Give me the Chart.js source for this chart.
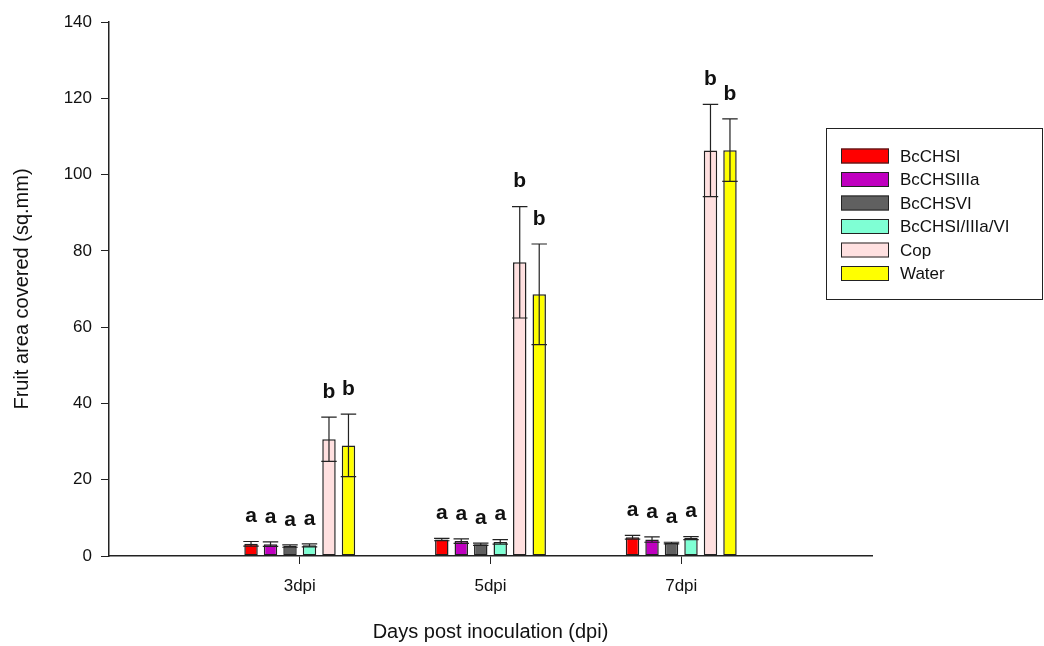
<!DOCTYPE html>
<html>
<head>
<meta charset="utf-8">
<script src="https://cdn.jsdelivr.net/npm/chart.js@4"></script>
<style>
  body { margin: 0; background: #fff; }
  canvas { display: block; }
</style>
</head>
<body>
<canvas id="barChart" width="1044" height="646"></canvas>
<script>
const ctx = document.getElementById('barChart').getContext('2d');

// days post inoculation
const days = ['3dpi', '5dpi', '7dpi'];

// mean fruit area covered (sq.mm)
const bcchsI = [3.2, 4.3, 4.9];
const bcchsIIIa = [3.1, 3.9, 4.3];
const bcchsVI = [2.6, 3.1, 3.4];
const bcchsMix = [2.8, 3.7, 4.7];
const cop = [30.6, 77.0, 106.3];
const water = [29.0, 68.6, 106.4];

// error (+/-)
const errI = [0.6, 0.3, 0.5];
const errIIIa = [0.6, 0.6, 0.7];
const errVI = [0.3, 0.3, 0.2];
const errMix = [0.4, 0.6, 0.4];
const errCop = [5.8, 14.6, 12.1];
const errWater = [8.2, 13.2, 8.2];

// significance letters
const lettersSmall = ['a', 'a', 'a'];
const lettersBig = ['b', 'b', 'b'];

const yTicks = [0, 20, 40, 60, 80, 100, 120, 140];

// pad with empty slots either side so the axis runs past the groups
const pad = arr => [null, ...arr, null];

function makeSet(label, values, errs, letters, color) {
  return {
    label: label,
    data: pad(values),
    errors: pad(errs),
    letters: pad(letters),
    backgroundColor: color,
    borderColor: '#222',
    borderWidth: 1.5,
    borderSkipped: false,
    categoryPercentage: 0.613,
    barPercentage: 0.69
  };
}

const data = {
  labels: pad(days).map(d => d || ''),
  datasets: [
    makeSet('BcCHSI', bcchsI, errI, lettersSmall, '#ff0000'),
    makeSet('BcCHSIIIa', bcchsIIIa, errIIIa, lettersSmall, '#c000c0'),
    makeSet('BcCHSVI', bcchsVI, errVI, lettersSmall, '#606060'),
    makeSet('BcCHSI/IIIa/VI', bcchsMix, errMix, lettersSmall, '#7fffd4'),
    makeSet('Cop', cop, errCop, lettersBig, '#ffe0e0'),
    makeSet('Water', water, errWater, lettersBig, '#ffff00')
  ]
};

// error bars + letters drawn on top of the bars
const errorBars = {
  id: 'errorBars',
  afterDatasetsDraw(chart) {
    const c = chart.ctx;
    const y = chart.scales.y;
    c.save();
    c.strokeStyle = '#222';
    c.lineWidth = 1.2;
    chart.data.datasets.forEach((ds, di) => {
      const meta = chart.getDatasetMeta(di);
      meta.data.forEach((el, i) => {
        const v = ds.data[i];
        if (v == null) return;
        const e = ds.errors[i];
        const top = y.getPixelForValue(v + e);
        const bot = y.getPixelForValue(v - e);
        const hw = el.width / 2 + 1;
        c.beginPath();
        c.moveTo(el.x, top); c.lineTo(el.x, bot);
        c.moveTo(el.x - hw, top); c.lineTo(el.x + hw, top);
        c.moveTo(el.x - hw, bot); c.lineTo(el.x + hw, bot);
        c.stroke();
        c.fillStyle = '#111';
        c.font = 'bold 21px "Liberation Sans", Arial, sans-serif';
        c.textAlign = 'center';
        c.textBaseline = 'middle';
        c.fillText(ds.letters[i], el.x, top - 25);
      });
    });
    c.restore();
  }
};

// boxed legend sitting over the right side
const boxLegend = {
  id: 'boxLegend',
  afterDraw(chart) {
    const c = chart.ctx;
    c.save();
    c.strokeStyle = '#222';
    c.lineWidth = 1;
    c.strokeRect(826.5, 128.5, 216, 171);
    c.font = '17px "Liberation Sans", Arial, sans-serif';
    c.textAlign = 'left';
    c.textBaseline = 'middle';
    chart.data.datasets.forEach((ds, i) => {
      const cy = 156 + i * 23.5;
      c.fillStyle = ds.backgroundColor;
      c.fillRect(841, cy - 7.5, 48, 15);
      c.strokeRect(841.5, cy - 7, 47, 14);
      c.fillStyle = '#111';
      c.fillText(ds.label, 900, cy + 1);
    });
    c.restore();
  }
};

const barChart = new Chart(ctx, {
  type: 'bar',
  data: data,
  plugins: [errorBars, boxLegend],
  options: {
    responsive: false,
    animation: false,
    layout: { padding: { top: 22, right: 172, left: 0, bottom: 0 } },
    plugins: {
      legend: { display: false },
      tooltip: { enabled: false }
    },
    scales: {
      x: {
        offset: false,
        grid: {
          offset: false,
          drawOnChartArea: false,
          tickLength: 8,
          color: c => (c.tick && c.tick.label === '') ? 'rgba(0,0,0,0)' : '#222'
        },
        border: { color: '#222', width: 1.5 },
        ticks: {
          padding: 12,
          autoSkip: false,
          maxRotation: 0,
          color: '#111',
          font: { family: '"Liberation Sans", Arial, sans-serif', size: 17 }
        },
        title: {
          display: true,
          text: 'Days post inoculation (dpi)',
          color: '#111',
          padding: { top: 0, bottom: 2 },
          font: { family: '"Liberation Sans", Arial, sans-serif', size: 20 }
        },
        afterFit: s => { s.height = 90; }
      },
      y: {
        min: 0,
        max: 140,
        afterBuildTicks: s => { s.ticks = yTicks.map(v => ({ value: v })); },
        grid: { drawOnChartArea: false, tickLength: 8, color: '#222' },
        border: { color: '#222', width: 1.5 },
        ticks: {
          padding: 9,
          color: '#111',
          font: { family: '"Liberation Sans", Arial, sans-serif', size: 17 }
        },
        title: {
          display: true,
          text: 'Fruit area covered (sq.mm)',
          color: '#111',
          padding: { top: 10, bottom: 0 },
          font: { family: '"Liberation Sans", Arial, sans-serif', size: 20 }
        },
        afterFit: s => { s.width = 109; }
      }
    }
  }
});
</script>
</body>
</html>
